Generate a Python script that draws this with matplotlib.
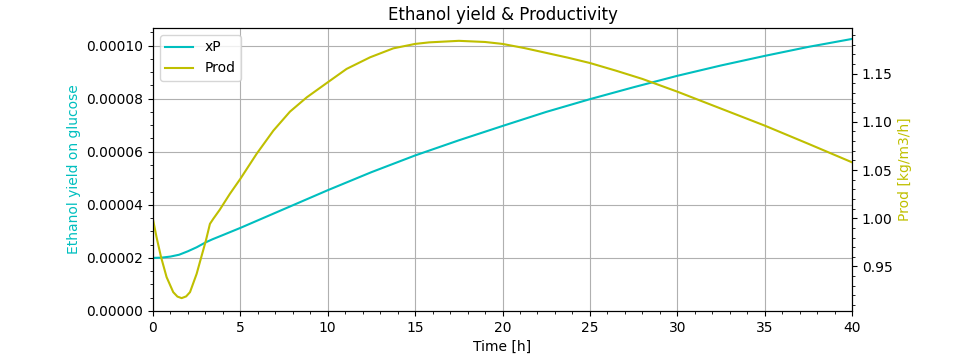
import matplotlib
matplotlib.use("Agg")
import matplotlib.pyplot as plt

# values
xp_t = [0, 0.5, 1.0, 1.5, 2.0, 2.5, 3.0, 3.4, 4, 5, 7.5, 10, 12.5, 15, 17.5,
        20, 22.5, 25, 27.5, 30, 32.5, 35, 37.5, 40]
xP = [2.00e-5, 2.01e-5, 2.05e-5, 2.12e-5, 2.25e-5, 2.40e-5, 2.58e-5, 2.70e-5,
      2.86e-5, 3.13e-5, 3.84e-5, 4.55e-5, 5.23e-5, 5.86e-5, 6.43e-5, 6.97e-5,
      7.50e-5, 7.98e-5, 8.43e-5, 8.86e-5, 9.25e-5, 9.61e-5, 9.95e-5, 1.025e-4]

prod_t = [0, 0.21, 0.46, 0.78, 1.16, 1.4, 1.64, 1.9, 2.12, 2.5, 2.79, 3.03,
          3.26, 3.45, 3.82, 4.4, 5, 5.93, 6.89, 7.84, 8.8, 10, 11.08, 12.42,
          13.75, 15, 15.8, 17.5, 19, 20, 21.25, 22.5, 23.75, 25, 26.5, 28, 30,
          32.5, 35, 37.5, 40]
prod = [0.999, 0.980, 0.960, 0.939, 0.9234, 0.9188, 0.9172, 0.9190, 0.9234,
        0.9424, 0.9614, 0.977, 0.9942, 0.9994, 1.0088, 1.0253, 1.0409, 1.0668,
        1.0909, 1.1106, 1.1254, 1.141, 1.1549, 1.1669, 1.1762, 1.1808, 1.1824,
        1.1840, 1.1828, 1.1808, 1.1765, 1.1715, 1.1665, 1.161, 1.153, 1.1445,
        1.1313, 1.1137, 1.0961, 1.0772, 1.058]

fig, ax1 = plt.subplots(figsize=(9.65, 3.54), dpi=100)
fig.subplots_adjust(left=0.1585, right=0.883, bottom=0.1215, top=0.921)

l1, = ax1.plot(xp_t, xP, color='c', label='xP')
ax1.set_xlim(0, 40)
ax1.set_ylim(bottom=0)
ax1.set_xlabel('Time [h]')
ax1.set_ylabel('Ethanol yield on glucose', color='c')
ax1.set_title('Ethanol yield & Productivity')
ax1.grid(True)
ax1.minorticks_on()
ax1.grid(False, which='minor')

ax2 = ax1.twinx()
l2, = ax2.plot(prod_t, prod, color='y', label='Prod')
ax2.set_ylabel('Prod [kg/m3/h]', color='y')
ax2.minorticks_on()

ax1.legend(handles=[l1, l2], loc='upper left')

fig.savefig('out.png', dpi=100)
